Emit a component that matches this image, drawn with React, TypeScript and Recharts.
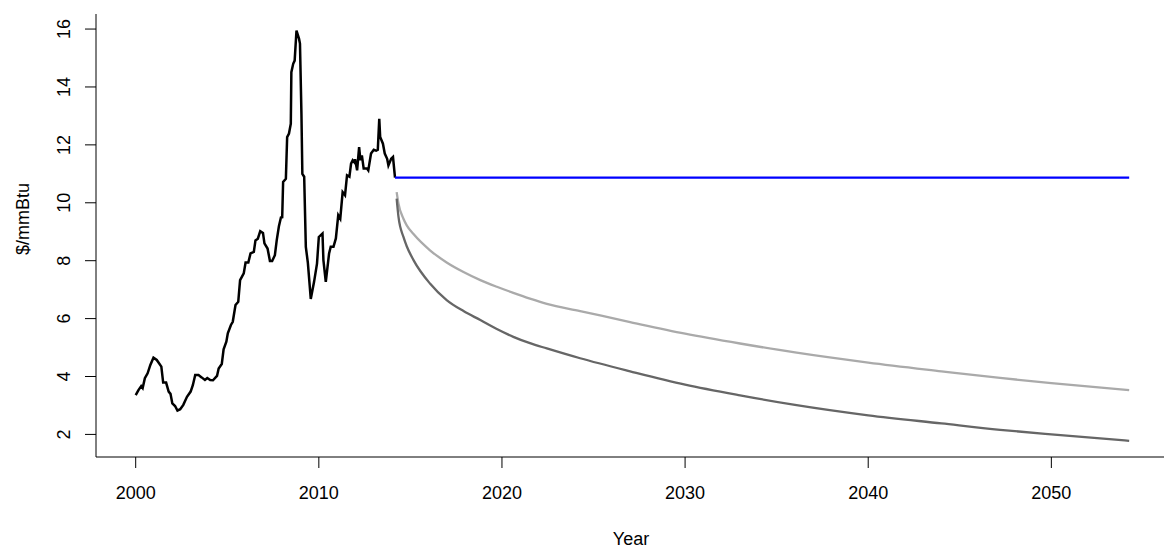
import { LineChart, Line, XAxis, YAxis } from "recharts";

// historical monthly price, $/mmBtu
const histYears = [
  2000.0, 2000.15, 2000.3, 2000.38, 2000.5, 2000.65, 2000.8, 2000.97, 2001.15, 2001.4,
  2001.5, 2001.66, 2001.8, 2001.9, 2002.0, 2002.15, 2002.28, 2002.43, 2002.6, 2002.8,
  2003.0, 2003.12, 2003.25, 2003.43, 2003.6, 2003.78, 2003.91, 2004.07, 2004.22, 2004.44,
  2004.53, 2004.7, 2004.8, 2004.95, 2005.03, 2005.2, 2005.3, 2005.45, 2005.6, 2005.7,
  2005.9, 2006.0, 2006.15, 2006.27, 2006.45, 2006.54, 2006.67, 2006.8, 2006.95, 2007.03,
  2007.2, 2007.33, 2007.45, 2007.6, 2007.7, 2007.82, 2007.93, 2008.0, 2008.05, 2008.2,
  2008.27, 2008.37, 2008.47, 2008.5, 2008.6, 2008.68, 2008.78, 2008.92, 2008.97, 2009.05,
  2009.1, 2009.2, 2009.29, 2009.4, 2009.56, 2009.74, 2009.9, 2010.0, 2010.2, 2010.25,
  2010.38, 2010.56, 2010.65, 2010.8, 2010.93, 2011.06, 2011.17, 2011.3, 2011.43, 2011.54,
  2011.67, 2011.76, 2011.85, 2011.94, 2011.98, 2012.09, 2012.2, 2012.27, 2012.35, 2012.45,
  2012.63, 2012.7, 2012.85, 2013.0, 2013.13, 2013.22, 2013.3, 2013.35, 2013.5, 2013.6,
  2013.73, 2013.8, 2013.95, 2014.05, 2014.16,
];
const histPrice = [
  3.36, 3.53, 3.67, 3.6, 3.94, 4.11, 4.4, 4.65, 4.57, 4.34,
  3.79, 3.79, 3.48, 3.4, 3.07, 2.98, 2.82, 2.87, 3.02, 3.3,
  3.48, 3.7, 4.05, 4.05, 3.97, 3.88, 3.95, 3.88, 3.87, 4.02,
  4.28, 4.43, 4.94, 5.2, 5.49, 5.78, 5.89, 6.47, 6.58, 7.33,
  7.56, 7.94, 7.94, 8.25, 8.3, 8.7, 8.76, 9.02, 8.96, 8.6,
  8.42, 7.99, 7.99, 8.19, 8.7, 9.19, 9.49, 9.5, 10.72, 10.83,
  12.27, 12.39, 12.73, 14.51, 14.8, 14.91, 15.95, 15.66, 15.5, 13.08,
  11.0, 10.9, 8.48, 7.93, 6.68, 7.27, 7.9, 8.82, 8.94, 8.02,
  7.27, 8.25, 8.48, 8.48, 8.77, 9.57, 9.45, 10.37, 10.26, 10.95,
  10.9, 11.35, 11.47, 11.4, 11.5, 11.12, 11.92, 11.47, 11.64, 11.18,
  11.18, 11.12, 11.7, 11.83, 11.8, 11.83, 12.9, 12.27, 12.04, 11.7,
  11.52, 11.29, 11.52, 11.58, 10.87,
];

// flat forecast
const flatYears = [2014.16, 2054.25];
const flatPrice = [10.87, 10.87];

// declining forecasts
const curveYears = [
  2014.25, 2014.35, 2014.62, 2014.8, 2015.17, 2016.07, 2016.98, 2017.9, 2018.82, 2019.72,
  2020.62, 2021.53, 2022.45, 2024.27, 2027, 2030, 2033, 2036, 2040, 2044,
  2047.2, 2050, 2054.25,
];
const upperPrice = [
  10.37, 9.97, 9.45, 9.22, 8.92, 8.36, 7.94, 7.61, 7.33, 7.1,
  6.89, 6.69, 6.51, 6.26, 5.88, 5.48, 5.14, 4.83, 4.48, 4.18,
  3.95, 3.77, 3.53,
];
const lowerPrice = [
  10.14, 9.51, 8.82, 8.5, 8.02, 7.21, 6.64, 6.26, 5.95, 5.64,
  5.37, 5.15, 4.97, 4.63, 4.18, 3.72, 3.35, 3.02, 2.66, 2.38,
  2.16, 2.0, 1.78,
];

const xTicks = [2000, 2010, 2020, 2030, 2040, 2050];
const yTicks = [2, 4, 6, 8, 10, 12, 14, 16];

const zip = (xs: number[], ys: number[]) => xs.map((year, i) => ({ year, v: ys[i] }));

const histData = zip(histYears, histPrice);
const flatData = zip(flatYears, flatPrice);
const upperData = zip(curveYears, upperPrice);
const lowerData = zip(curveYears, lowerPrice);

const FONT = "'Liberation Sans', Arial, Helvetica, sans-serif";
const X_DOMAIN = [1997.832, 2056.37];

function YTick({ y, payload }: any) {
  return (
    <text
      x={70}
      y={y}
      transform={`rotate(-90, 70, ${y})`}
      textAnchor="middle"
      fontSize={18}
      fontFamily={FONT}
      fill="#000"
    >
      {payload.value}
    </text>
  );
}

export default function App() {
  return (
    <div
      style={{
        position: "absolute",
        left: 0,
        top: 0,
        width: 1164,
        height: 549,
        overflow: "hidden",
        background: "#fff",
      }}
    >
      <LineChart
        width={1180}
        height={549}
        margin={{ top: 14, right: 12, bottom: 0, left: 0 }}
      >
        <XAxis
          dataKey="year"
          type="number"
          domain={X_DOMAIN}
          allowDataOverflow
          ticks={xTicks}
          height={92}
          tickSize={11}
          tickMargin={18}
          stroke="#000"
          tick={{ fontSize: 18, fontFamily: FONT, fill: "#000" }}
          label={{
            content: () => (
              <text x={631} y={545} textAnchor="middle" fontSize={18} fontFamily={FONT} fill="#000">
                Year
              </text>
            ),
          }}
        />
        <XAxis
          xAxisId="top"
          orientation="top"
          dataKey="year"
          type="number"
          domain={X_DOMAIN}
          height={0}
          tick={false}
          tickLine={false}
          stroke="#000"
        />
        <YAxis
          type="number"
          domain={[1.22, 16.52]}
          allowDataOverflow
          ticks={yTicks}
          width={96}
          tickSize={11}
          stroke="#000"
          tick={<YTick />}
          label={{
            content: () => (
              <text
                x={29}
                y={219}
                transform="rotate(-90, 29, 219)"
                textAnchor="middle"
                fontSize={18}
                fontFamily={FONT}
                fill="#000"
              >
                $/mmBtu
              </text>
            ),
          }}
        />
        <Line
          data={histData}
          dataKey="v"
          type="linear"
          stroke="#000"
          strokeWidth={2.5}
          dot={false}
          activeDot={false}
          isAnimationActive={false}
        />
        <Line
          data={flatData}
          dataKey="v"
          type="linear"
          stroke="#0000ff"
          strokeWidth={2.3}
          dot={false}
          activeDot={false}
          isAnimationActive={false}
        />
        <Line
          data={upperData}
          dataKey="v"
          type="monotone"
          stroke="#aaaaaa"
          strokeWidth={2.3}
          dot={false}
          activeDot={false}
          isAnimationActive={false}
        />
        <Line
          data={lowerData}
          dataKey="v"
          type="monotone"
          stroke="#666666"
          strokeWidth={2.3}
          dot={false}
          activeDot={false}
          isAnimationActive={false}
        />
      </LineChart>
    </div>
  );
}
